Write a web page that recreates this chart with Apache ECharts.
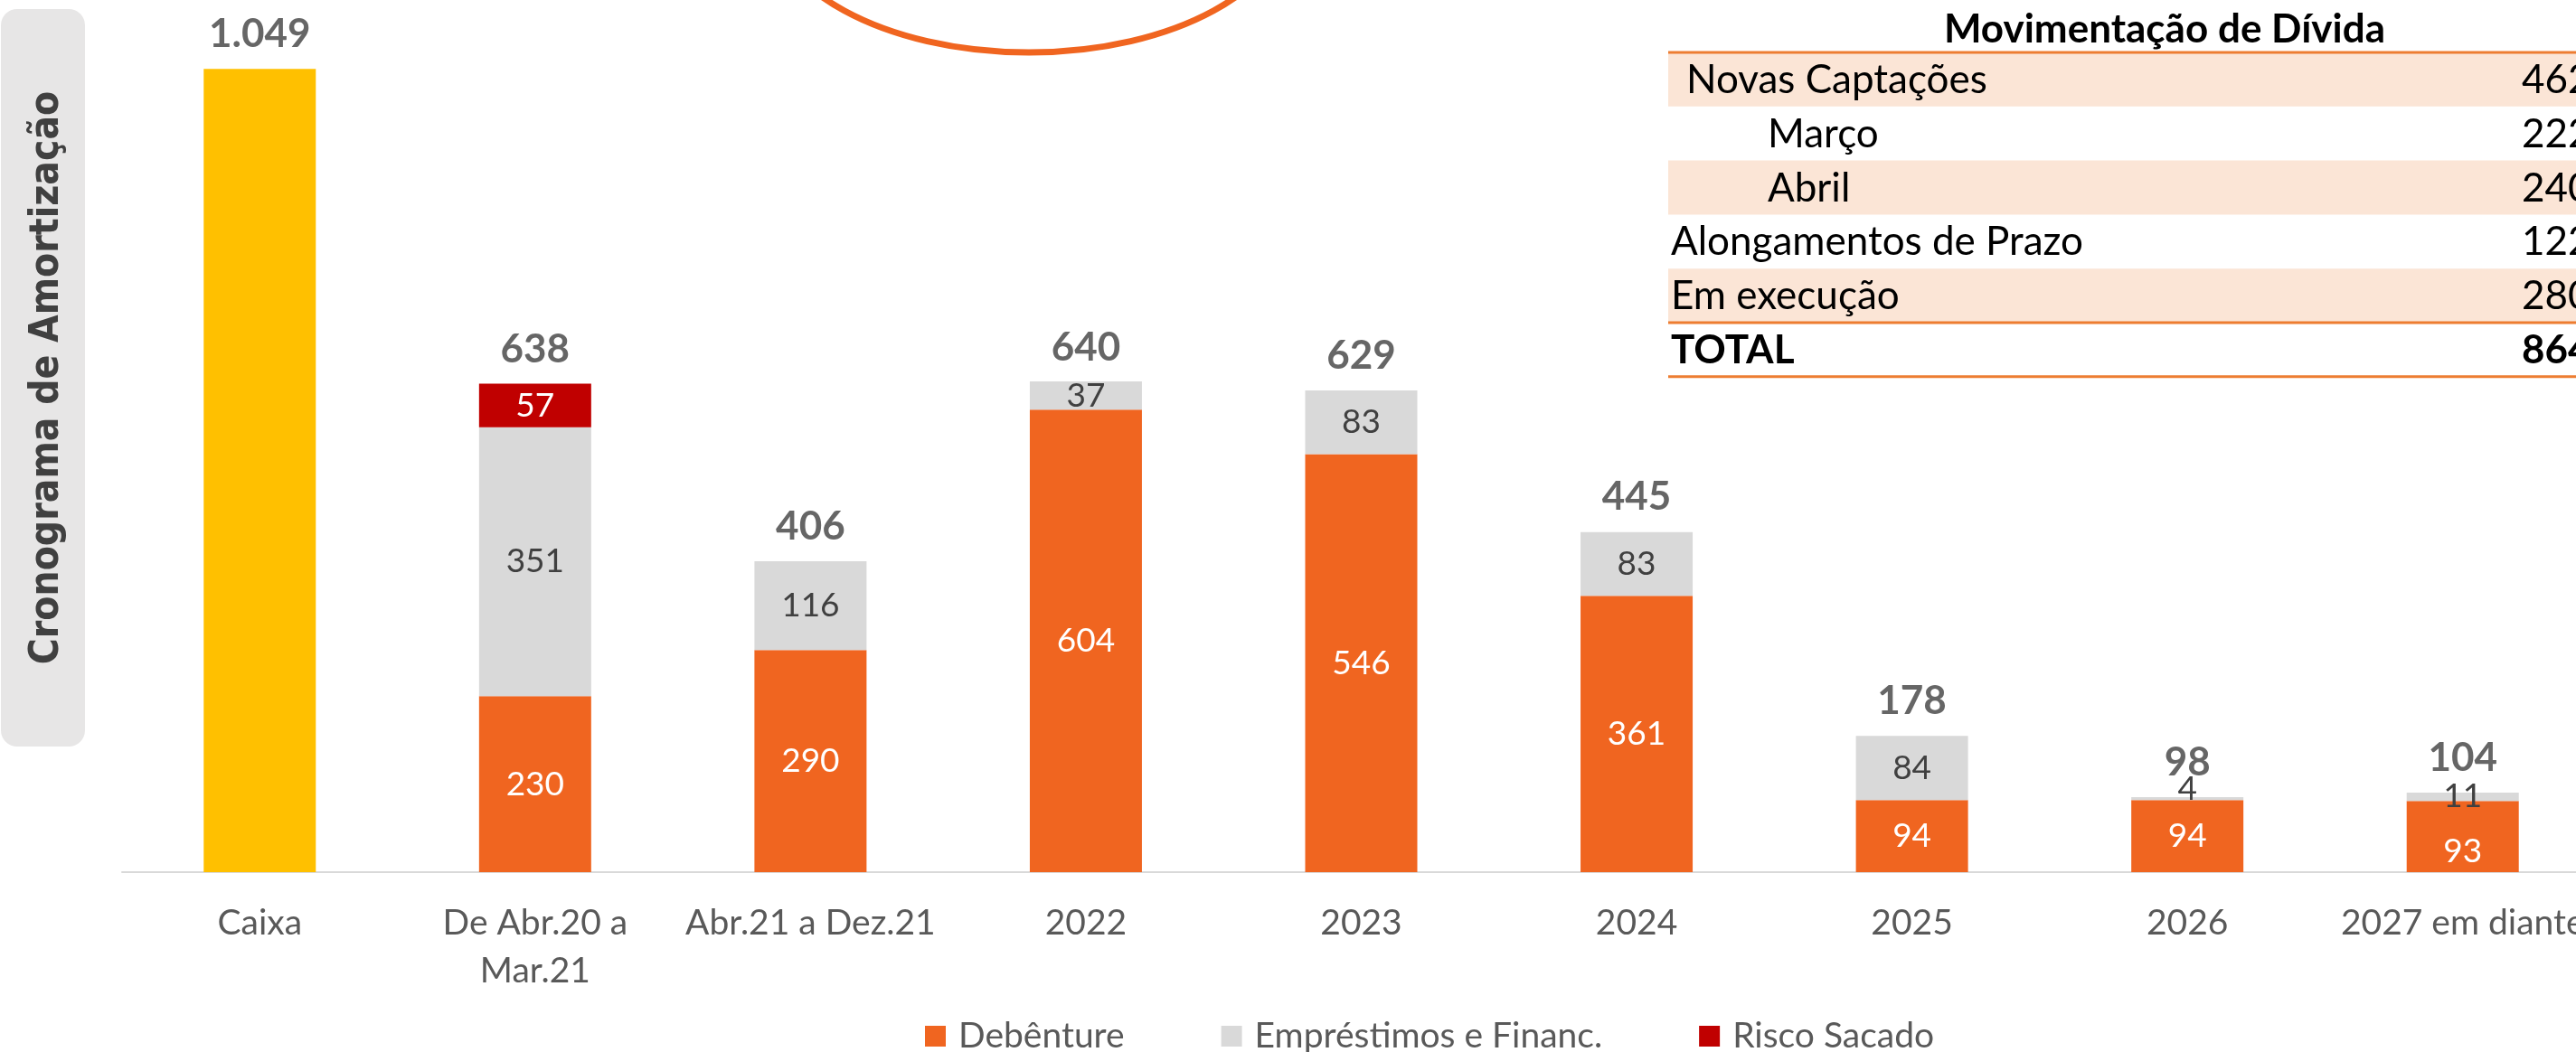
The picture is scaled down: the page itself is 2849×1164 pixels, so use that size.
<!DOCTYPE html>
<html>
<head>
<meta charset="utf-8">
<script src="https://cdn.jsdelivr.net/npm/echarts@6/dist/echarts.min.js"></script>
<style>
  html, body { margin: 0; padding: 0; background: #ffffff; }
  #chart { width: 2849px; height: 1164px; }
</style>
</head>
<body>
<div id="chart"></div>
<script>
// Amortization schedule (R$ milhões)
const categories = ['Caixa', 'De Abr.20 a\nMar.21', 'Abr.21 a Dez.21', '2022', '2023', '2024', '2025', '2026', '2027 em diante'];
const caixa       = [1049, null, null, null, null, null, null, null, null];
const debenture   = [null, 230, 290, 604, 546, 361, 94, 94, 93];
const emprestimos = [null, 351, 116, 37, 83, 83, 84, 4, 11];
const riscoSacado = [null, 57, null, null, null, null, null, null, null];
const totals      = [1049, 638, 406, 640, 629, 445, 178, 98, 104];

// Debt movement table
const debtRows   = ['Novas Captações', 'Março', 'Abril', 'Alongamentos de Prazo', 'Em execução', 'TOTAL'];
const debtValues = [462, 222, 240, 122, 280, 864];

const FONT = 'Lato, "Open Sans", sans-serif';
const ORANGE = '#F06520';
const GRAY = '#D9D9D9';
const RED = '#C00000';
const YELLOW = '#FFC000';
const DARK = '#404040';

function fmtBR(v) {
  return String(v).replace(/\B(?=(\d{3})+(?!\d))/g, '.');
}

// per-point label nudges for the thin segments at the right
function withOffsets(values, offsets) {
  return values.map((v, i) => {
    if (offsets[i]) return { value: v, label: { offset: offsets[i] } };
    return v;
  });
}

const segLabel = (color) => ({
  show: true,
  position: 'inside',
  color: color,
  fontFamily: FONT,
  fontSize: 37,
  formatter: (p) => (p.value == null ? '' : fmtBR(p.value))
});

// table graphics
const tableLeft = 1845, tableRight = 2849, rowTop = 58, rowH = 59.8;
const indentX = [1865, 1955, 1955, 1848, 1848, 1848];
const valueX = 2789;
const tableFont = '44px ' + FONT;
const tableGraphics = [];
debtRows.forEach((name, i) => {
  const y0 = rowTop + i * rowH;
  if (i % 2 === 0 && i < 5) {
    tableGraphics.push({
      type: 'rect', z: 1,
      shape: { x: tableLeft, y: y0, width: tableRight - tableLeft, height: rowH },
      style: { fill: '#FBE5D6' }
    });
  }
  const bold = name === 'TOTAL';
  tableGraphics.push({
    type: 'text', z: 3,
    style: {
      x: indentX[i], y: y0 + rowH / 2 + 1, text: name,
      fill: '#000000', font: (bold ? 'bold ' : '') + tableFont,
      align: 'left', verticalAlign: 'middle', textAlign: 'left', textVerticalAlign: 'middle'
    }
  });
  tableGraphics.push({
    type: 'text', z: 3,
    style: {
      x: valueX, y: y0 + rowH / 2 + 1, text: fmtBR(debtValues[i]),
      fill: '#000000', font: (bold ? 'bold ' : '') + tableFont,
      align: 'left', verticalAlign: 'middle', textAlign: 'left', textVerticalAlign: 'middle'
    }
  });
});
[rowTop, rowTop + 5 * rowH, rowTop + 6 * rowH].forEach((y) => {
  tableGraphics.push({
    type: 'line', z: 2,
    shape: { x1: tableLeft, y1: y, x2: tableRight, y2: y },
    style: { stroke: '#ED7D31', lineWidth: 3 }
  });
});
tableGraphics.push({
  type: 'text', z: 3,
  style: {
    x: 2394, y: 33, text: 'Movimentação de Dívida',
    fill: '#000000', font: 'bold 44px ' + FONT,
    align: 'center', verticalAlign: 'middle', textAlign: 'center', textVerticalAlign: 'middle'
  }
});

const chart = echarts.init(document.getElementById('chart'), null, { renderer: 'canvas' });

chart.setOption({
  animation: false,
  backgroundColor: '#ffffff',
  grid: { left: 135, width: 2741, top: 33, bottom: 199, containLabel: false, outerBoundsMode: 'none' },
  xAxis: {
    type: 'category',
    data: categories,
    axisTick: { show: false },
    axisLine: { lineStyle: { color: '#D9D9D9', width: 2 } },
    axisLabel: {
      interval: 0, margin: 30, color: '#595959', hideOverlap: false,
      fontFamily: FONT, fontSize: 39, lineHeight: 53
    }
  },
  yAxis: { type: 'value', min: 0, max: 1100, show: false, splitLine: { show: false } },
  legend: {
    data: ['Debênture', 'Empréstimos e Financ.', 'Risco Sacado'],
    left: 1018, top: 1122,
    icon: 'rect', itemWidth: 23, itemHeight: 23, itemGap: 107,
    textStyle: { color: '#595959', fontFamily: FONT, fontSize: 39, padding: [0, 0, 0, 9] }
  },
  series: [
    {
      name: 'Caixa', type: 'bar', stack: 'amort', barWidth: 124,
      itemStyle: { color: YELLOW }, data: caixa
    },
    {
      name: 'Debênture', type: 'bar', stack: 'amort', barWidth: 124,
      itemStyle: { color: ORANGE },
      label: segLabel('#ffffff'),
      data: withOffsets(debenture, { 8: [0, 16] })
    },
    {
      name: 'Empréstimos e Financ.', type: 'bar', stack: 'amort', barWidth: 124,
      itemStyle: { color: GRAY },
      label: segLabel(DARK),
      data: withOffsets(emprestimos, { 7: [0, -11] })
    },
    {
      name: 'Risco Sacado', type: 'bar', stack: 'amort', barWidth: 124,
      itemStyle: { color: RED },
      label: segLabel('#ffffff'),
      data: riscoSacado
    },
    {
      name: 'Total', type: 'scatter', symbolSize: 0, silent: true,
      data: totals,
      label: {
        show: true, position: 'top', distance: 16,
        color: DARK, fontFamily: FONT, fontWeight: 'bold', fontSize: 44, lineHeight: 44,
        formatter: (p) => fmtBR(p.value)
      }
    }
  ],
  graphic: [
    {
      type: 'rect', z: 1,
      shape: { x: 1, y: 10, width: 93, height: 816, r: 18 },
      style: { fill: '#E7E6E6' }
    },
    {
      type: 'text', z: 2, x: 53, y: 418, rotation: Math.PI / 2,
      style: {
        x: 0, y: 0, text: 'Cronograma de Amortização',
        fill: DARK, font: 'bold 44px "DejaVu Sans Condensed", "DejaVu Sans", sans-serif',
        align: 'center', verticalAlign: 'middle', textAlign: 'center', textVerticalAlign: 'middle'
      }
    },
    {
      type: 'ellipse', z: 5,
      shape: { cx: 1138, cy: -100, rx: 289, ry: 158 },
      style: { fill: 'none', stroke: ORANGE, lineWidth: 7 }
    }
  ].concat(tableGraphics)
});
</script>
</body>
</html>
